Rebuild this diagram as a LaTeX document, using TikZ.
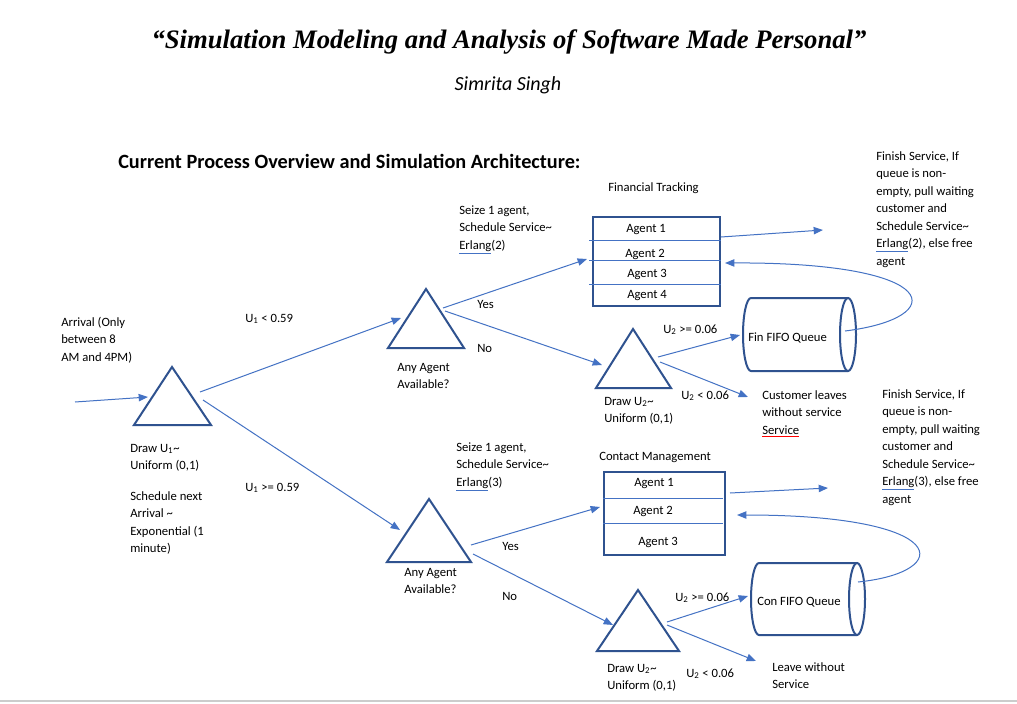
\documentclass[tikz,border=0pt]{standalone}
\usepackage{fontspec}
\setmainfont{Carlito}
\newfontfamily\titlefont{Liberation Serif}
\usetikzlibrary{arrows.meta}
\definecolor{outl}{HTML}{2F528F}
\definecolor{conn}{HTML}{4472C4}
\newcommand{\erl}{{\color{conn}\underline{\color{black}Erlang}}}
\newcommand{\redul}[1]{{\color{red}\underline{\color{black}#1}}}
\begin{document}
\begin{tikzpicture}[x=0.75pt,y=-0.75pt,
  txt/.style={anchor=base west, inner sep=0pt, align=left, font=\fontsize{9.5}{13.1}\selectfont},
  tri/.style={draw=outl, line width=1.5pt, line join=miter},
  arr/.style={draw=conn, line width=0.75pt, -{Triangle[length=7pt,width=5.5pt]}},
  ln/.style={draw=conn, line width=0.75pt},
  box/.style={draw=outl, line width=1.5pt, inner sep=0pt}]
\useasboundingbox (0,0) rectangle (1017,703);
\fill[white] (0,0) rectangle (1017,703);

% headings
\node[anchor=base, inner sep=0pt, font=\titlefont\bfseries\itshape\fontsize{20}{24}\selectfont] (title) at (509,48) {“Simulation Modeling and Analysis of Software Made Personal”};
\node[anchor=base, inner sep=0pt, font=\itshape\fontsize{15}{18}\selectfont] (author) at (508,90) {Simrita Singh};
\node[anchor=base west, inner sep=0pt, font=\bfseries\fontsize{15.2}{18}\selectfont] (head) at (118,168) {Current Process Overview and Simulation Architecture:};

% triangles
\draw[tri] (172,367) -- (211,425) -- (134,425) -- cycle;
\draw[tri] (426,289) -- (464,348) -- (388,348) -- cycle;
\draw[tri] (429,499) -- (471,562) -- (387,562) -- cycle;
\draw[tri] (633,329) -- (671,388) -- (596,388) -- cycle;
\draw[tri] (638,590) -- (679,651) -- (597,651) -- cycle;

% agent boxes
\node[box, anchor=north west, minimum width=95.25pt, minimum height=66.75pt] (fin) at (592,216) {};
\draw[ln] (589,240) -- (721,240);
\draw[ln] (589,260) -- (721,260);
\draw[ln] (589,284) -- (721,284);
\node[box, anchor=north west, minimum width=90.75pt, minimum height=62.25pt] (con) at (603,471) {};
\draw[ln] (603,498) -- (723,498);
\draw[ln] (603,523) -- (723,523);

% queues
\draw[outl, line width=1.5pt] (848,298) -- (751,298) arc[start angle=-90, end angle=-270, x radius=8, y radius=36.5] -- (848,371);
\draw[outl, line width=1.5pt] (848,334.5) ellipse[x radius=8, y radius=36.5];
\draw[outl, line width=1.5pt] (857,563) -- (759,563) arc[start angle=-90, end angle=-270, x radius=8, y radius=36] -- (857,635);
\draw[outl, line width=1.5pt] (857,599) ellipse[x radius=8, y radius=36];

% coordinates
\coordinate (a0s) at (75,402);   \coordinate (a0e) at (148,397);
\coordinate (t0u) at (200,392);  \coordinate (t1in) at (401,318);
\coordinate (t0d) at (203,400);  \coordinate (t2in) at (400,530);
\coordinate (t1y) at (443,308);  \coordinate (finin) at (587,259);
\coordinate (t1n) at (445,311);  \coordinate (t3in) at (602,365);
\coordinate (finout) at (721,237); \coordinate (finend) at (823,230);
\coordinate (finret) at (725,263); \coordinate (finqs) at (845,331);
\coordinate (t3u) at (658,357);  \coordinate (finqin) at (740,335);
\coordinate (t3d) at (660,362);  \coordinate (leave1) at (748,397);
\coordinate (t2y) at (471,545);  \coordinate (conin) at (600,507);
\coordinate (t2n) at (473,554);  \coordinate (t4in) at (613,625);
\coordinate (conout) at (730,493); \coordinate (conend) at (828,488);
\coordinate (conret) at (737,515); \coordinate (conqs) at (858,582);
\coordinate (t4u) at (667,622);  \coordinate (conqin) at (748,596);
\coordinate (t4d) at (667,625);  \coordinate (leave2) at (756,661);

% connectors
\draw[arr] (a0s) -- (a0e);
\draw[arr] (t0u) -- (t1in);
\draw[arr] (t0d) -- (t2in);
\draw[arr] (t1y) -- (finin);
\draw[arr] (t1n) -- (t3in);
\draw[arr] (finout) -- (finend);
\draw[arr] (finqs) .. controls (950,318) and (945,262) .. (finret);
\draw[arr] (t3u) -- (finqin);
\draw[arr] (t3d) -- (leave1);
\draw[arr] (t2y) -- (conin);
\draw[arr] (t2n) -- (t4in);
\draw[arr] (conout) -- (conend);
\draw[arr] (conqs) .. controls (955,572) and (952,515) .. (conret);
\draw[arr] (t4u) -- (conqin);
\draw[arr] (t4d) -- (leave2);

% texts (base = baseline of last line)
\node[txt] (arrival) at (61,361) {Arrival (Only\\between 8\\AM and 4PM)};
\node[txt] (draw1) at (130,469.5) {Draw U\textsubscript{1}\textasciitilde\\Uniform (0,1)};
\node[txt] (sched) at (130,552.5) {Schedule next\\Arrival \textasciitilde\\Exponential (1\\minute)};
\node[txt] (u1a) at (245,322) {U\textsubscript{1} < 0.59};
\node[txt] (u1b) at (245,491) {U\textsubscript{1} >= 0.59};
\node[txt] (any1) at (397,388.5) {Any Agent\\Available?};
\node[txt] (any2) at (404,593.5) {Any Agent\\Available?};
\node[txt] (yes1) at (477,308) {Yes};
\node[txt] (no1) at (477,352) {No};
\node[txt] (yes2) at (502,550) {Yes};
\node[txt] (no2) at (502,600) {No};
\node[txt] (seize1) at (459,249) {Seize 1 agent,\\Schedule Service\textasciitilde\\\erl(2)};
\node[txt] (seize2) at (456,486) {Seize 1 agent,\\Schedule Service\textasciitilde\\\erl(3)};
\node[txt] (ftrack) at (608,191) {Financial Tracking};
\node[txt] (cmgmt) at (599,460) {Contact Management};
\node[txt] (fa1) at (626,232) {Agent 1};
\node[txt] (fa2) at (625,257) {Agent 2};
\node[txt] (fa3) at (627,277) {Agent 3};
\node[txt] (fa4) at (627,298) {Agent 4};
\node[txt] (ca1) at (634,486) {Agent 1};
\node[txt] (ca2) at (633,514) {Agent 2};
\node[txt] (ca3) at (638,545) {Agent 3};
\node[txt] (finqt) at (748,341) {Fin FIFO Queue};
\node[txt] (conqt) at (757,605) {Con FIFO Queue};
\node[txt] (u2a) at (663,333) {U\textsubscript{2} >= 0.06};
\node[txt] (u2b) at (681,399) {U\textsubscript{2} < 0.06};
\node[txt] (u2c) at (675,601) {U\textsubscript{2} >= 0.06};
\node[txt] (u2d) at (686,677) {U\textsubscript{2} < 0.06};
\node[txt] (draw2) at (604,422.5) {Draw U\textsubscript{2}\textasciitilde\\Uniform (0,1)};
\node[txt] (draw3) at (607,689.5) {Draw U\textsubscript{2}\textasciitilde\\Uniform (0,1)};
\node[txt] (cust) at (762,434) {Customer leaves\\without service\\\redul{Service}};
\node[txt] (leave) at (772,688.5) {Leave without\\Service};
\node[txt] (fin1) at (876,265) {Finish Service, If\\queue is non-\\empty, pull waiting\\customer and\\Schedule Service\textasciitilde\\\erl(2), else free\\agent};
\node[txt] (fin2) at (882,503) {Finish Service, If\\queue is non-\\empty, pull waiting\\customer and\\Schedule Service\textasciitilde\\\erl(3), else free\\agent};

\draw[gray!40, line width=1.2pt] (0,701) -- (1017,701);
\end{tikzpicture}
\end{document}
